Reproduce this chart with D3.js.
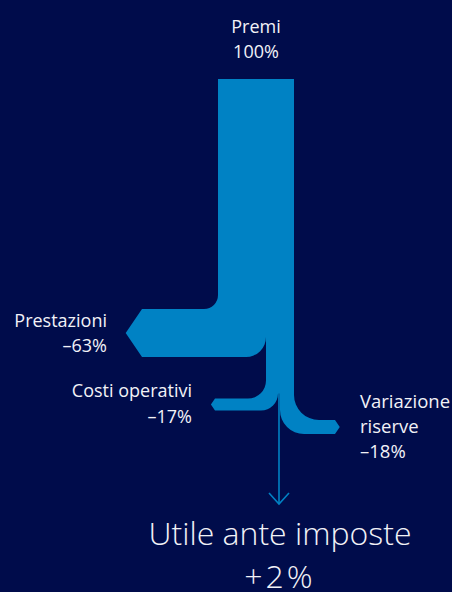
<!DOCTYPE html>
<html>
<head>
<meta charset="utf-8">
<script src="https://cdn.jsdelivr.net/npm/d3@7"></script>
<style>
  html, body { margin: 0; padding: 0; background: #000c4b; }
  svg { display: block; }
  text { font-family: "Open Sans", "Noto Sans", sans-serif; fill: #f2f2f7; }
</style>
</head>
<body>
<div id="container"></div>
<script>
// flows, from left to right across the stream
const flowNames = ["Prestazioni", "Costi operativi", "Utile ante imposte", "Variazione riserve"];
const flowValues = [-63, -17, 2, -18];
const flowLabels = ["–63%", "–17%", "+2%", "–18%"];
const sourceName = "Premi";
const sourceValue = 100;
const sourceLabel = "100%";

const width = 452, height = 592;
const color = "#0082c4";

const svg = d3.select("#container")
  .append("svg")
  .attr("width", width)
  .attr("height", height);

svg.append("rect")
  .attr("width", width)
  .attr("height", height)
  .attr("fill", "#000c4b");

// stream position scale (cumulative percent -> px), rounded so edges sit on pixels
const x = d3.scaleLinear().domain([0, sourceValue]).range([218, 293.6]).interpolate(d3.interpolateRound);
const x0 = x(0);
const xR = x(sourceValue);
const yTop = 79;

// cumulative offsets of each flow inside the stream
let acc = 0;
const flows = flowNames.map((name, i) => {
  const v = Math.abs(flowValues[i]);
  const f = {name, value: flowValues[i], label: flowLabels[i], xa: x(acc), xb: x(acc + v)};
  f.h = f.xb - f.xa;
  acc += v;
  return f;
});

// layout of each branch: turn level, end position, corner radii
const layout = [
  {dir: -1, y: 309, end: 142, r1: 14, r2: 20},
  {dir: -1, y: 398.5, end: 215, r1: 18, r2: 17},
  null,
  {dir: 1, y: 420, end: 335, r1: 25, r2: 24}
];

function branchPath(f, l) {
  const p = d3.path();
  const ya = l.y, yb = l.y + f.h, ym = l.y + f.h / 2;
  const d = f.h / 2 * 0.68;
  if (l.dir < 0) {
    p.moveTo(f.xa, yTop);
    p.arcTo(f.xa, ya, f.xa - l.r1, ya, l.r1);
    p.lineTo(l.end, ya);
    p.lineTo(l.end - d, ym);
    p.lineTo(l.end, yb);
    p.arcTo(f.xb, yb, f.xb, yb - l.r2, l.r2);
    p.lineTo(f.xb, yTop);
  } else {
    p.moveTo(f.xb, yTop);
    p.arcTo(f.xb, ya, f.xb + l.r1, ya, l.r1);
    p.lineTo(l.end, ya);
    p.lineTo(l.end + d, ym);
    p.lineTo(l.end, yb);
    p.arcTo(f.xa, yb, f.xa, yb - l.r2, l.r2);
    p.lineTo(f.xa, yTop);
  }
  p.closePath();
  return p.toString();
}

// trunk pieces underneath, so the flows don't show seams
const P = flows[0], C = flows[1], U = flows[2], V = flows[3];
const trunk = [
  [x0, layout[0].y - layout[0].r1],
  [P.xb, layout[1].y - layout[1].r1],
  [C.xb, Math.min(layout[1].y + C.h - layout[1].r2, layout[3].y - layout[3].r1)]
];
svg.selectAll("rect.trunk")
  .data(trunk)
  .join("rect")
  .attr("class", "trunk")
  .attr("x", d => d[0])
  .attr("y", yTop)
  .attr("width", d => xR - d[0])
  .attr("height", d => d[1] - yTop)
  .attr("fill", color);

flows.forEach((f, i) => {
  if (!layout[i]) return;
  svg.append("path")
    .attr("d", branchPath(f, layout[i]))
    .attr("fill", color);
});

// the profit stream: thin line with arrow
const ux = (U.xa + U.xb) / 2;
const arrowY = 504;
svg.append("line")
  .attr("x1", ux).attr("x2", ux)
  .attr("y1", trunk[2][1] - 2).attr("y2", arrowY)
  .attr("stroke", color)
  .attr("stroke-width", 1.6);
svg.append("path")
  .attr("d", `M${ux - 10},${arrowY - 11}L${ux},${arrowY}L${ux + 10},${arrowY - 11}`)
  .attr("fill", "none")
  .attr("stroke", color)
  .attr("stroke-width", 1.6);

// labels
function label(lines, lx, ly, anchor, size, spacing, weight) {
  const t = svg.append("text")
    .attr("x", lx)
    .attr("y", ly)
    .attr("text-anchor", anchor)
    .style("font-size", size + "px")
    .style("font-weight", weight || 400);
  lines.forEach((s, i) => {
    t.append("tspan").attr("x", lx).attr("dy", i === 0 ? 0 : spacing).text(s);
  });
  return t;
}

label([sourceName, sourceLabel], (x0 + xR) / 2, 33, "middle", 18, 25);
label([P.name, P.label], 107, 327, "end", 18, 25);
label([C.name, C.label], 192, 397, "end", 18, 25.5);
label(["Variazione", "riserve", V.label], 360, 408, "start", 18.5, 25.2);
label([U.name], ux + 1, 545, "middle", 32, 0, 300);
label([U.label], ux + 1, 588, "middle", 32, 0, 300)
  .style("letter-spacing", "3px");
</script>
</body>
</html>
